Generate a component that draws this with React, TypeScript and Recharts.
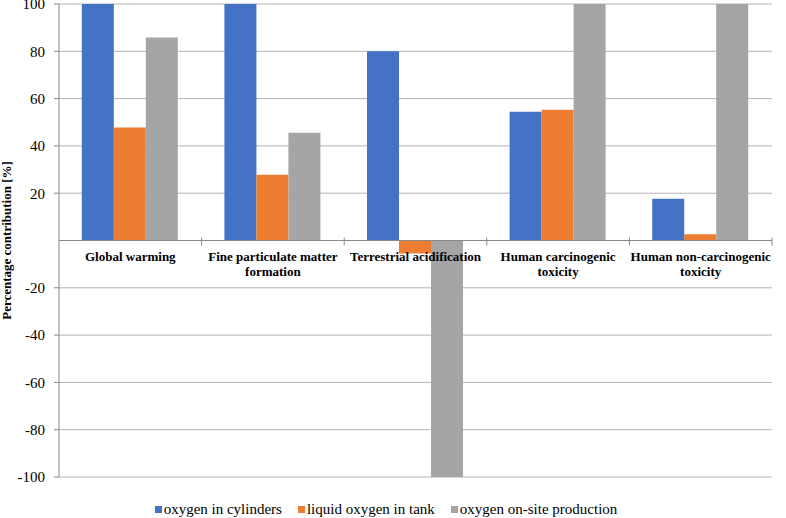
import {
  BarChart,
  Bar,
  XAxis,
  YAxis,
  CartesianGrid,
  Legend,
  ReferenceLine,
  ReferenceDot,
} from "recharts";

const CATEGORIES = [
  "Global warming",
  "Fine particulate matter formation",
  "Terrestrial acidification",
  "Human carcinogenic toxicity",
  "Human non-carcinogenic toxicity",
];
const CATEGORY_LINES = [
  ["Global warming"],
  ["Fine particulate matter", "formation"],
  ["Terrestrial acidification"],
  ["Human carcinogenic", "toxicity"],
  ["Human non-carcinogenic", "toxicity"],
];
const CYLINDERS = [100, 100, 80, 54.4, 17.7];
const TANK = [47.8, 27.8, -5.5, 55.3, 2.6];
const ONSITE = [85.8, 45.6, -100, 100, 100];
const Y_TICKS = [-100, -80, -60, -40, -20, 20, 40, 60, 80, 100];

const SERIES = [
  { key: "cyl", name: "oxygen in cylinders", color: "#4472c4" },
  { key: "tank", name: "liquid oxygen in tank", color: "#ed7d31" },
  { key: "site", name: "oxygen on-site production", color: "#a5a5a5" },
];

const data = CATEGORIES.map((c, i) => ({
  name: c,
  cyl: CYLINDERS[i],
  tank: TANK[i],
  site: ONSITE[i],
}));

const W = 786;
const H = 518;
const MARGIN = { top: 4, right: 14, bottom: 0, left: 0 };
const Y_W = 59;
const BAND = (W - MARGIN.left - MARGIN.right - Y_W) / CATEGORIES.length;
const FONT = "Liberation Serif, DejaVu Serif, serif";

function categoryShape(lines: string[]) {
  return (p: any) => (
    <g>
      <line x1={p.cx + BAND / 2} x2={p.cx + BAND / 2} y1={p.cy - 3} y2={p.cy + 5} stroke="#888" />
      <text
        x={p.cx}
        textAnchor="middle"
        style={{ fontFamily: FONT }}
        fontWeight="bold"
        fontSize={13}
        fill="#000"
      >
        {lines.map((l, i) => (
          <tspan key={i} x={p.cx} y={p.cy + 20 + i * 15}>
            {l}
          </tspan>
        ))}
      </text>
    </g>
  );
}

function LegendContent() {
  return (
    <div
      style={{
        height: 41,
        paddingTop: 23,
        boxSizing: "border-box",
        display: "flex",
        justifyContent: "center",
        fontFamily: FONT,
        fontSize: 15,
        lineHeight: "18px",
        color: "#000",
      }}
    >
      {SERIES.map((s) => (
        <span key={s.key} style={{ display: "flex", alignItems: "center", margin: "0 8px" }}>
          <span style={{ width: 7, height: 7, background: s.color, marginRight: 2 }} />
          {s.name}
        </span>
      ))}
    </div>
  );
}

export default function App() {
  return (
    <div style={{ position: "absolute", left: 0, top: 0, background: "#fff", fontFamily: FONT }}>
      <BarChart
        width={W}
        height={H}
        data={data}
        margin={MARGIN}
        barCategoryGap="16%"
        barGap={0}
        style={{ fontFamily: FONT }}
      >
        <CartesianGrid horizontal vertical={false} stroke="#b4b4b4" />
        <XAxis dataKey="name" hide />
        <YAxis
          width={Y_W}
          domain={[-100, 100]}
          ticks={Y_TICKS}
          allowDataOverflow
          interval={0}
          stroke="#888"
          tickSize={5}
          tickMargin={9}
          tick={{ fontSize: 15, fill: "#000", style: { fontFamily: FONT } }}
          label={{
            content: ({ viewBox }: any) => (
              <text
                x={viewBox.x + 8}
                y={viewBox.y + viewBox.height / 2}
                transform={`rotate(-90, ${viewBox.x + 8}, ${viewBox.y + viewBox.height / 2})`}
                textAnchor="middle"
                dominantBaseline="middle"
                style={{ fontFamily: FONT }}
                fontWeight="bold"
                fontSize={13}
                fill="#000"
              >
                Percentage contribution [%]
              </text>
            ),
          }}
        />
        {SERIES.map((s) => (
          <Bar
            key={s.key}
            dataKey={s.key}
            name={s.name}
            fill={s.color}
            isAnimationActive={false}
          />
        ))}
        <ReferenceLine y={0} stroke="#888" />
        {CATEGORIES.map((c, i) => (
          <ReferenceDot
            key={c}
            x={c}
            y={0}
            r={0}
            shape={categoryShape(CATEGORY_LINES[i])}
          />
        ))}
        <Legend verticalAlign="bottom" content={<LegendContent />} />
      </BarChart>
    </div>
  );
}
